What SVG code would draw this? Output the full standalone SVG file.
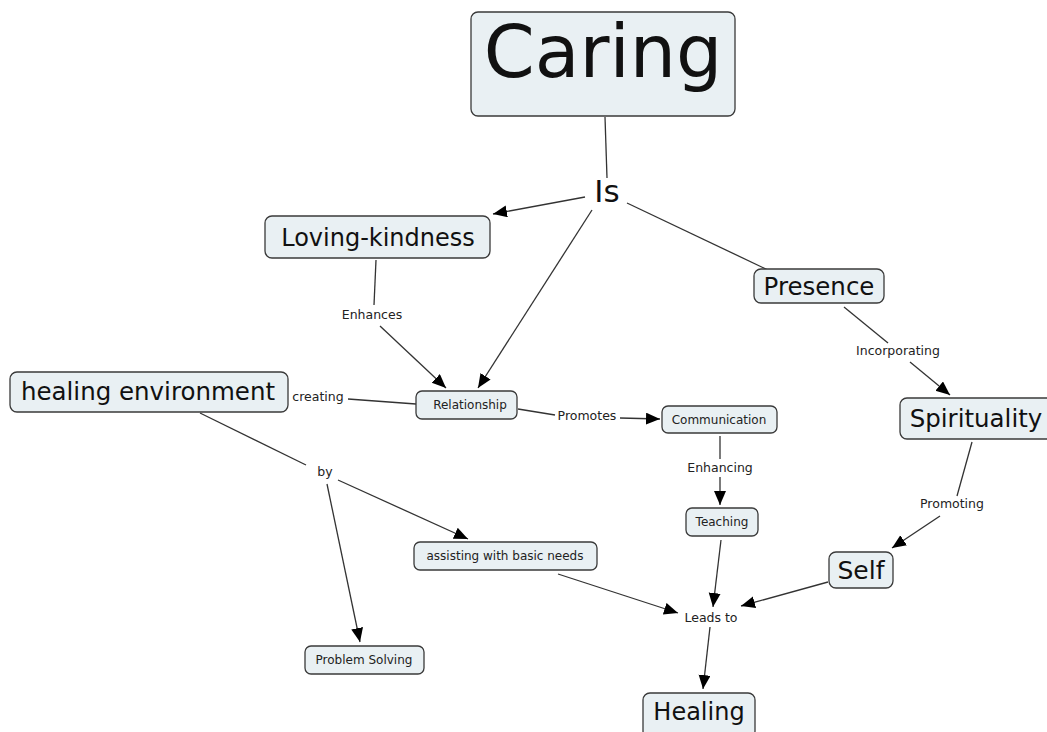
<svg xmlns="http://www.w3.org/2000/svg" width="1047" height="732" viewBox="0 0 1047 732">
<style>
.box{fill:#e9f0f3;stroke:#3a3a3a;stroke-width:1.3}
text{font-family:"DejaVu Sans",Verdana,sans-serif;fill:#111;text-anchor:middle}
.lbl{font-size:12.5px;fill:#222}
.sm{font-size:12px;fill:#222}
.ln{stroke:#333;stroke-width:1.3;fill:none}
.ar{marker-end:url(#ah)}
</style>
<defs>
<marker id="ah" markerUnits="userSpaceOnUse" markerWidth="16" markerHeight="14" refX="14" refY="6" orient="auto">
<path d="M0,0 L14,6 L0,12 Z" fill="#000"/>
</marker>
</defs>
<rect width="1047" height="732" fill="#fff"/>
<g id="connectors">
<line class="ln" x1="605" y1="117" x2="607" y2="178"/>
<line class="ln ar" x1="585" y1="197" x2="493" y2="214"/>
<line class="ln ar" x1="592" y1="210" x2="478" y2="388"/>
<line class="ln" x1="627" y1="203" x2="768" y2="270"/>
<line class="ln" x1="376" y1="260" x2="374" y2="305"/>
<line class="ln ar" x1="380" y1="326" x2="446" y2="388"/>
<line class="ln" x1="348" y1="399" x2="416" y2="404"/>
<line class="ln" x1="518" y1="409" x2="555" y2="415"/>
<line class="ln ar" x1="620" y1="418" x2="660" y2="419"/>
<line class="ln" x1="720" y1="436" x2="720" y2="459"/>
<line class="ln ar" x1="720" y1="477" x2="720" y2="505"/>
<line class="ln ar" x1="721" y1="540" x2="713" y2="607"/>
<line class="ln" x1="844" y1="307" x2="888" y2="343"/>
<line class="ln ar" x1="910" y1="362" x2="950" y2="395"/>
<line class="ln" x1="972" y1="442" x2="957" y2="496"/>
<line class="ln ar" x1="940" y1="516" x2="892" y2="548"/>
<line class="ln ar" x1="828" y1="582" x2="741" y2="606"/>
<line class="ln" x1="200" y1="413" x2="306" y2="465"/>
<line class="ln ar" x1="338" y1="480" x2="468" y2="539"/>
<line class="ln ar" x1="327" y1="484" x2="360" y2="642"/>
<line class="ln ar" x1="558" y1="574" x2="678" y2="613"/>
<line class="ln ar" x1="710" y1="627" x2="703" y2="689"/>
</g>
<g id="labels">
<text x="607" y="202" font-size="31">Is</text>
<text class="lbl" x="372" y="319">Enhances</text>
<text class="lbl" x="318" y="401">creating</text>
<text class="lbl" x="587" y="420">Promotes</text>
<text class="lbl" x="720" y="472">Enhancing</text>
<text class="lbl" x="898" y="355">Incorporating</text>
<text class="lbl" x="952" y="508">Promoting</text>
<text class="lbl" x="325" y="476">by</text>
<text class="lbl" x="711" y="622">Leads to</text>
</g>
<g id="caring"><rect class="box" x="471" y="12" width="264" height="104" rx="7"/><text x="603" y="77" font-size="73">Caring</text></g>
<g id="loving"><rect class="box" x="265" y="216" width="225" height="42" rx="7"/><text x="378" y="246" font-size="24">Loving-kindness</text></g>
<g id="presence"><rect class="box" x="754" y="269" width="130" height="34" rx="7"/><text x="819" y="295" font-size="24.5">Presence</text></g>
<g id="spirituality"><rect class="box" x="900" y="398" width="155" height="41" rx="7"/><text x="976" y="427" font-size="24.5">Spirituality</text></g>
<g id="self"><rect class="box" x="829" y="552" width="64" height="36" rx="7"/><text x="861" y="579" font-size="25">Self</text></g>
<g id="healing"><rect class="box" x="643" y="693" width="112" height="45" rx="7"/><text x="699" y="720" font-size="24">Healing</text></g>
<g id="healing-environment"><rect class="box" x="10" y="372" width="278" height="40" rx="7"/><text x="148" y="400" font-size="24.5">healing environment</text></g>
<g id="relationship"><rect class="box" x="416" y="391" width="101" height="28" rx="6"/><text class="sm" x="470" y="409">Relationship</text></g>
<g id="communication"><rect class="box" x="662" y="406" width="115" height="27" rx="6"/><text class="sm" x="719" y="424">Communication</text></g>
<g id="teaching"><rect class="box" x="686" y="508" width="72" height="28" rx="6"/><text class="sm" x="722" y="526">Teaching</text></g>
<g id="assisting"><rect class="box" x="414" y="542" width="183" height="28" rx="6"/><text class="sm" x="505" y="560">assisting with basic needs</text></g>
<g id="problem-solving"><rect class="box" x="305" y="646" width="119" height="28" rx="6"/><text class="sm" x="364" y="664">Problem Solving</text></g>
</svg>
